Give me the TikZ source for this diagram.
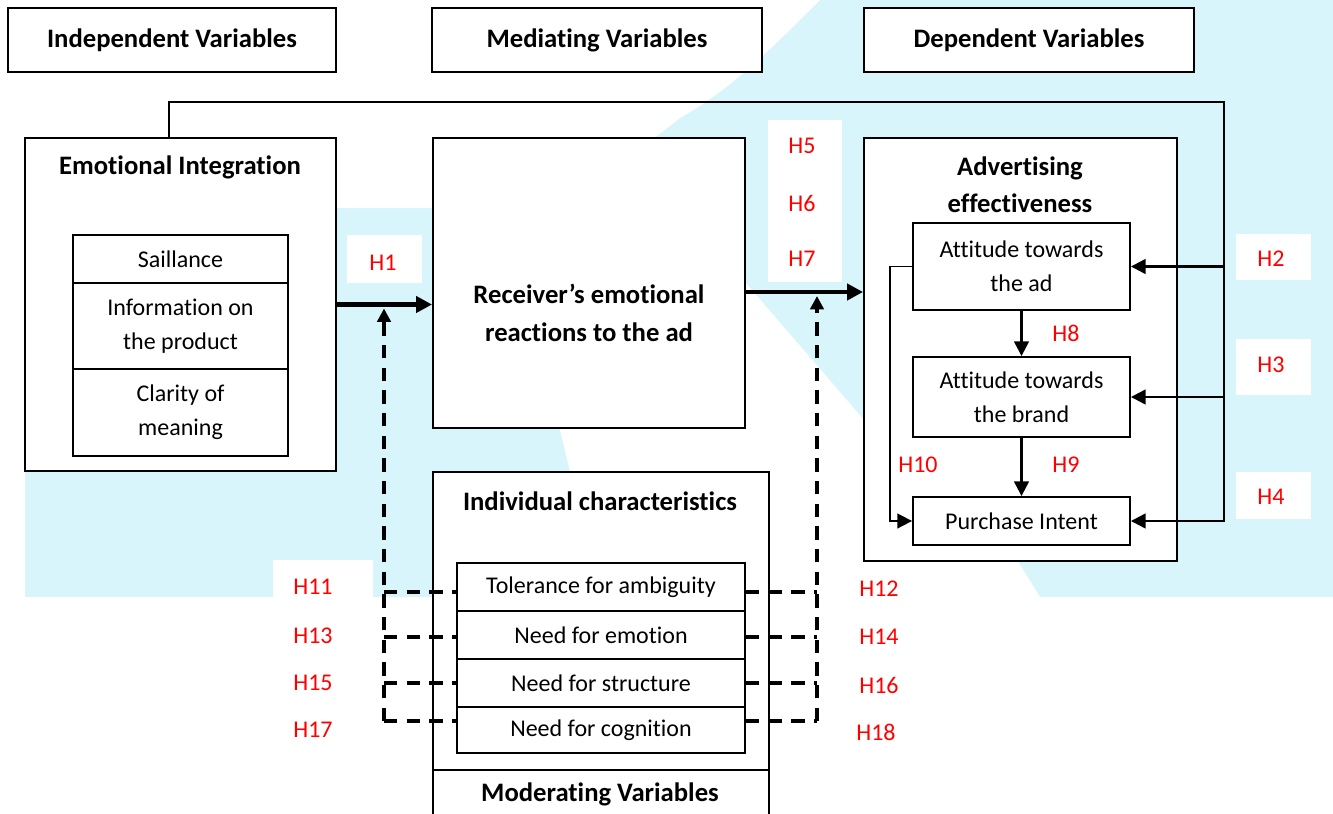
\documentclass[tikz,border=0pt]{standalone}
\usepackage{fontspec}
\setmainfont{Carlito}[Ligatures=NoCommon]
\usetikzlibrary{arrows.meta,fit}
\definecolor{wmblue}{RGB}{216,245,252}
\definecolor{hred}{RGB}{255,0,0}
\begin{document}
\begin{tikzpicture}[x=0.75pt,y=-0.75pt,
  box/.style={draw=black, line width=1.4pt, fill=white, inner sep=0pt},
  txt/.style={font=\fontsize{18}{25.5}\selectfont, align=center, inner sep=0pt},
  head/.style={font=\fontsize{20}{28}\selectfont\bfseries, align=center, inner sep=0pt},
  hyp/.style={text=hred, font=\fontsize{18}{20}\selectfont, inner sep=0pt},
  hbg/.style={fill=white, draw=none, inner sep=0pt},
  bigarrow/.style={line width=3.6pt, -{Triangle[length=12pt,width=12pt]}},
  conn/.style={line width=1.7pt, -{Triangle[length=11pt,width=11pt]}},
  dline/.style={line width=3pt, dash pattern=on 10pt off 7pt},
  darrow/.style={line width=3pt, dash pattern=on 10pt off 7pt, -{Triangle[length=10pt,width=10pt]}}
]
\useasboundingbox (0,0) rectangle (1333,813);
% watermark background
\fill[wmblue] (0,0) rectangle (1333,597);
\fill[white] (0,0) -- (820,0) .. controls (770,50) and (730,90) .. (680,118)
  -- (565,208) -- (25,208) -- (25,597) -- (0,597) -- cycle;
\fill[white] (560,430) -- (700,260) -- (745,282) -- (864,420)
  -- (1017,560) -- (1040,597) -- (600,597) -- cycle;

% white label backgrounds
\node[hbg, fit={(347,235)(422,283)}] (h1bg) {};
\node[hbg, fit={(768,120)(842,282)}] (h57bg) {};
\node[hbg, fit={(1236,234)(1311,280)}] (h2bg) {};
\node[hbg, fit={(1236,339)(1311,395)}] (h3bg) {};
\node[hbg, fit={(1236,472)(1311,519)}] (h4bg) {};
\node[hbg, fit={(273,560)(373,600)}] (h11bg) {};

% header boxes
\node[box, fit={(8,8)(336,72)}] (indep) {};
\node[head] (indept) at (indep) {Independent Variables};
\node[box, fit={(432,8)(762,72)}] (medi) {};
\node[head] (medit) at (medi) {Mediating Variables};
\node[box, fit={(864,8)(1194,72)}] (depv) {};
\node[head] (depvt) at (depv) {Dependent Variables};

% emotional integration
\node[box, fit={(25,138)(336,471)}] (emo) {};
\node[head] (emot) at (180,167) {Emotional Integration};
\node[box, fit={(73,235)(288,283)}] (sail) {};
\node[txt] (sailt) at (sail) {Saillance};
\node[box, fit={(73,283)(288,369)}] (info) {};
\node[txt] (infot) at (info) {Information on\\the product};
\node[box, fit={(73,369)(288,456)}] (clar) {};
\node[txt] (clart) at (clar) {Clarity of\\meaning};

% receiver
\node[box, fit={(433,138)(745,428)}] (rec) {};
\node[head] (rect) at (589,313) {Receiver’s emotional\\reactions to the ad};

% advertising effectiveness
\node[box, fit={(864,138)(1177,561)}] (adv) {};
\node[head] (advt) at (1020,185) {Advertising\\effectiveness};
\node[box, fit={(913,223)(1130,310)}] (ad) {};
\node[txt] (adt) at (ad) {Attitude towards\\the ad};
\node[box, fit={(913,357)(1130,437)}] (brand) {};
\node[txt] (brandt) at (brand) {Attitude towards\\the brand};
\node[box, fit={(913,497)(1130,545)}] (pi) {};
\node[txt] (pit) at (pi) {Purchase Intent};

% individual characteristics
\node[box, fit={(433,472)(769,770)}] (ind) {};
\node[head] (indt) at (600,501) {Individual characteristics};
\node[box, fit={(457,563)(745,611)}] (tol) {};
\node[txt] (tolt) at (tol) {Tolerance for ambiguity};
\node[box, fit={(457,611)(745,659)}] (nemo) {};
\node[txt] (nemot) at (nemo) {Need for emotion};
\node[box, fit={(457,659)(745,707)}] (nstr) {};
\node[txt] (nstrt) at (nstr) {Need for structure};
\node[box, fit={(457,707)(745,753)}] (ncog) {};
\node[txt] (ncogt) at (ncog) {Need for cognition};
\node[box, fit={(433,770)(769,840)}] (mod) {};
\node[head] (modt) at (600,794) {Moderating Variables};

% hypothesis labels
\node[hyp] (H1) at (383,263) {H1};
\node[hyp] (H5) at (802,146) {H5};
\node[hyp] (H6) at (802,203) {H6};
\node[hyp] (H7) at (802,259) {H7};
\node[hyp] (H2) at (1271,259) {H2};
\node[hyp] (H3) at (1271,365) {H3};
\node[hyp] (H4) at (1271,497) {H4};
\node[hyp] (H8) at (1066,333) {H8};
\node[hyp] (H9) at (1066,465) {H9};
\node[hyp] (H10) at (918,465) {H10};
\node[hyp] (H11) at (313,587) {H11};
\node[hyp] (H13) at (313,636) {H13};
\node[hyp] (H15) at (313,683) {H15};
\node[hyp] (H17) at (313,730) {H17};
\node[hyp] (H12) at (879,589) {H12};
\node[hyp] (H14) at (879,637) {H14};
\node[hyp] (H16) at (879,685) {H16};
\node[hyp] (H18) at (876,732) {H18};

% coordinates
\coordinate (m2) at (745,292);
\coordinate (fbL) at (169,102);
\coordinate (fbR) at (1224,102);
\coordinate (L1) at (384,592);
\coordinate (L2) at (384,637);
\coordinate (L3) at (384,683);
\coordinate (L4) at (384,721);
\coordinate (R1) at (817,592);
\coordinate (R2) at (817,637);
\coordinate (R3) at (817,683);
\coordinate (R4) at (817,721);

% main arrows
\draw[bigarrow] (emo.east) -- (emo.east -| rec.west);
\draw[bigarrow] (rec.east |- m2) -- (adv.west |- m2);

% feedback line and right arrows
\draw[conn] (emo.north -| fbL) -- (fbL) -- (fbR) |- (pi.east);
\draw[conn] (fbR |- ad.east) -- (ad.east);
\draw[conn] (fbR |- brand.east) -- (brand.east);

% inner arrows
\draw[conn] (ad.south) -- (brand.north);
\draw[conn] (brand.south) -- (pi.north);
\draw[conn, line width=1.4pt] (ad.west) -- ++(-22,0) |- (pi.west);

% moderating dashed lines
\draw[darrow] (L4) -- ([yshift=-3pt]emo.east -| L4);
\draw[dline] (L1) -- (L1 -| tol.west);
\draw[dline] (L2) -- (L2 -| nemo.west);
\draw[dline] (L3) -- (L3 -| nstr.west);
\draw[dline] (L4) -- (L4 -| ncog.west);
\draw[darrow] (R4) -- ([yshift=-3pt]m2 -| R4);
\draw[dline] (R1 -| tol.east) -- (R1);
\draw[dline] (R2 -| nemo.east) -- (R2);
\draw[dline] (R3 -| nstr.east) -- (R3);
\draw[dline] (R4 -| ncog.east) -- (R4);
\end{tikzpicture}
\end{document}
